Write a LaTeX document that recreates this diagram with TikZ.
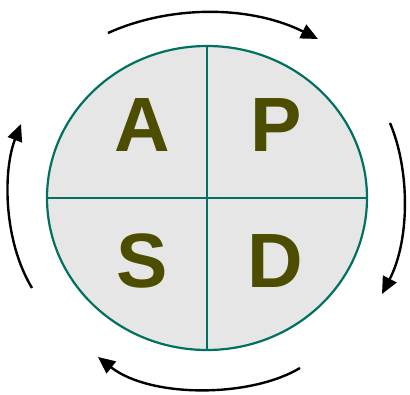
\documentclass[tikz,border=0pt]{standalone}
\usepackage{fontspec}
\setmainfont{Liberation Sans}
\usetikzlibrary{arrows.meta}
\definecolor{circteal}{RGB}{0,112,96}
\definecolor{cellgrey}{RGB}{230,230,230}
\definecolor{lettolive}{RGB}{77,77,0}
\tikzset{
  cycarrow/.style={line width=2.4pt,-{Triangle[length=17pt,width=15pt]}},
  letter/.style={text=lettolive,font=\fontsize{77}{77}\selectfont\bfseries,inner sep=0pt,anchor=center},
  divider/.style={draw=circteal,line width=2.2pt}
}
\begin{document}
\begin{tikzpicture}[x=1pt,y=-1pt]
\useasboundingbox (0,0) rectangle (410,395);
% circle
\fill[cellgrey] (207,198) ellipse [x radius=160, y radius=152];
\coordinate (top) at (207,46);
\coordinate (bot) at (207,350);
\coordinate (lft) at (47,198);
\coordinate (rgt) at (367,198);
\draw[divider] (top) -- (bot);
\draw[divider] (lft) -- (rgt);
\draw[circteal,line width=2.2pt] (207,198) ellipse [x radius=160, y radius=152];
% letters
\node[letter] (A) at (142,125) {A};
\node[letter] (P) at (276,125) {P};
\node[letter] (S) at (142,261) {S};
\node[letter] (D) at (275,261) {D};
% arrows
\coordinate (t1) at (108,33);
\coordinate (t2) at (318,39);
\coordinate (r1) at (390,123);
\coordinate (r2) at (382,294);
\coordinate (b1) at (300,368);
\coordinate (b2) at (98,357);
\coordinate (l1) at (32,288);
\coordinate (l2) at (21,124);
\draw[cycarrow] (t1) .. controls (170,5) and (250,5) .. (t2);
\draw[cycarrow] (r1) .. controls (410,170) and (410,240) .. (r2);
\draw[cycarrow] (b1) .. controls (250,398) and (150,398) .. (b2);
\draw[cycarrow] (l1) .. controls (3,240) and (3,170) .. (l2);
\end{tikzpicture}
\end{document}
